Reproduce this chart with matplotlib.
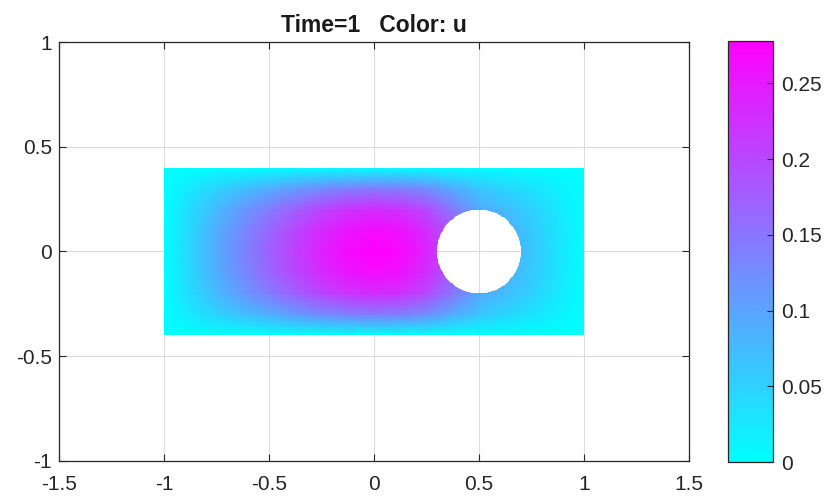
import matplotlib.pyplot as plt
import numpy as np
from matplotlib.path import Path
from matplotlib.patches import PathPatch

plt.rcParams['font.family'] = ['Liberation Sans', 'DejaVu Sans']
plt.rcParams['axes.unicode_minus'] = False

# solution u on a regular grid over the upper half of the plate (symmetric in y)
x_nodes = np.linspace(-1, 1, 17)
y_half = [0.0, 0.1, 0.2, 0.3, 0.4]
u_y00 = [0, .047, .092, .133, .172, .209, .242, .267, .278, .270, .239, .183, .133, .092, .061, .031, 0]
u_y01 = [0, .045, .088, .128, .165, .201, .232, .256, .267, .259, .229, .176, .124, .088, .059, .030, 0]
u_y02 = [0, .039, .076, .110, .143, .173, .201, .222, .231, .224, .198, .148, .095, .072, .050, .026, 0]
u_y03 = [0, .024, .048, .069, .089, .109, .126, .139, .145, .140, .124, .092, .064, .046, .032, .016, 0]
u_y04 = [0] * 17

# plate and hole
plate_x = (-1.0, 1.0)
plate_y = (-0.4, 0.4)
hole_center = (0.5, 0.0)
hole_r = 0.2

rows = [u_y04, u_y03, u_y02, u_y01, u_y00, u_y01, u_y02, u_y03, u_y04]
y_nodes = np.array([-y for y in y_half[::-1]] + y_half[1:])
U = np.array(rows, dtype=float)
X, Y = np.meshgrid(x_nodes, y_nodes)

fig = plt.figure(figsize=(8.25, 4.99), dpi=100)
ax = fig.add_axes([0.0715, 0.0762, 0.7636, 0.8396])
cax = fig.add_axes([0.882, 0.0741, 0.0545, 0.8439])

mesh = ax.pcolormesh(X, Y, U, cmap='cool', shading='gouraud', vmin=0, vmax=U.max(), zorder=2)

# clip the mesh to the plate with the circular hole cut out
theta = np.linspace(0, 2 * np.pi, 200)[::-1]
rect = [(plate_x[0], plate_y[0]), (plate_x[1], plate_y[0]), (plate_x[1], plate_y[1]),
        (plate_x[0], plate_y[1]), (plate_x[0], plate_y[0])]
circ = list(zip(hole_center[0] + hole_r * np.cos(theta), hole_center[1] + hole_r * np.sin(theta)))
verts = rect + circ
codes = [Path.MOVETO] + [Path.LINETO] * 3 + [Path.CLOSEPOLY] + \
        [Path.MOVETO] + [Path.LINETO] * (len(circ) - 2) + [Path.CLOSEPOLY]
clip = PathPatch(Path(verts, codes), transform=ax.transData, facecolor='none', edgecolor='none')
ax.add_patch(clip)
mesh.set_clip_path(clip)

ax.set_xlim(-1.5, 1.5)
ax.set_ylim(-1, 1)
ax.set_xticks([-1.5, -1, -0.5, 0, 0.5, 1, 1.5])
ax.set_xticklabels(['-1.5', '-1', '-0.5', '0', '0.5', '1', '1.5'])
ax.set_yticks([-1, -0.5, 0, 0.5, 1])
ax.set_yticklabels(['-1', '-0.5', '0', '0.5', '1'])
ax.set_axisbelow(True)
ax.grid(True, color='#dcdcdc', linewidth=0.8)
ax.tick_params(direction='in', top=True, right=True, length=5, width=0.8,
               labelsize=15, colors='#262626', pad=5)
ax.tick_params(axis='x', pad=10)
for s in ax.spines.values():
    s.set_color('#262626')
    s.set_linewidth(0.9)
ax.set_title('Time=1   Color: u', fontsize=16.5, fontweight='bold', color='#1a1a1a', pad=7)

cb = fig.colorbar(mesh, cax=cax)
cb.set_ticks([0, 0.05, 0.1, 0.15, 0.2, 0.25])
cb.set_ticklabels(['0', '0.05', '0.1', '0.15', '0.2', '0.25'])
cb.ax.tick_params(direction='in', length=4, width=0.8, labelsize=15, colors='#262626', pad=6)
cb.outline.set_edgecolor('#262626')
cb.outline.set_linewidth(0.9)

fig.savefig('out.png', dpi=100)
